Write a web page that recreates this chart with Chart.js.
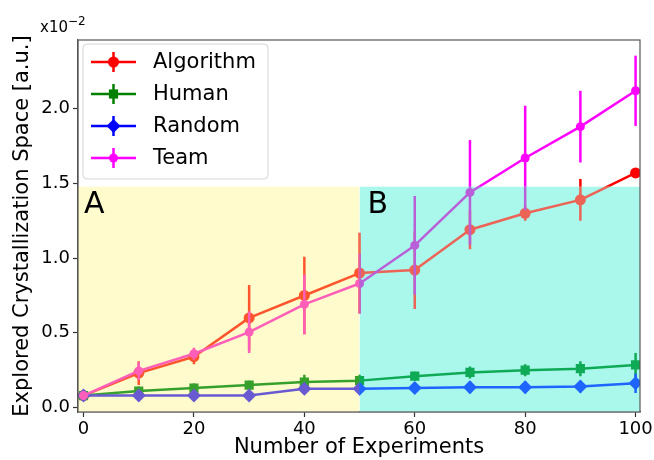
<!DOCTYPE html>
<html>
<head>
<meta charset="utf-8">
<script src="https://cdn.jsdelivr.net/npm/chart.js"></script>
<style>
html,body{margin:0;padding:0;background:#fff;}
#wrap{width:654px;height:460px;}
</style>
</head>
<body>
<div id="wrap"><canvas id="c" width="654" height="460"></canvas></div>
<script>
const experiments = [0,10,20,30,40,50,60,70,80,90,100];
const algorithm    = [0.08,0.23,0.34,0.60,0.75,0.90,0.92,1.19,1.30,1.39,1.57];
const algorithmErr = [0.02,0.08,0.05,0.22,0.26,0.27,0.26,0.13,0.05,0.14,0.01];
const human        = [0.08,0.11,0.13,0.15,0.17,0.18,0.21,0.235,0.25,0.26,0.285];
const humanErr     = [0.02,0.03,0.03,0.03,0.05,0.04,0.03,0.04,0.04,0.05,0.08];
const random       = [0.08,0.08,0.08,0.08,0.125,0.125,0.13,0.135,0.135,0.14,0.163];
const randomErr    = [0.02,0.02,0.02,0.02,0.03,0.03,0.03,0.04,0.04,0.04,0.065];
const team         = [0.08,0.245,0.36,0.505,0.69,0.83,1.085,1.44,1.67,1.88,2.12];
const teamErr      = [0.02,0.06,0.04,0.14,0.2,0.2,0.33,0.35,0.35,0.24,0.235];
const seriesNames  = ['Algorithm','Human','Random','Team'];
const xTicks = [0,20,40,60,80,100];
const yTicks = [0,0.5,1.0,1.5,2.0];
const regionSplit = 50;
const regionTop = 1.48;
const regionLabels = ['A','B'];

const FONT = 'DejaVu Sans';
const colors = ['#ff0000','#008000','#0000ff','#ff00ff'];
const regionBg = ['rgb(255,251,204)','rgb(170,248,236)'];
const regionColors = [
  ['rgb(255,85,45)','rgb(55,160,45)','rgb(105,90,210)','rgb(255,95,185)'],
  ['rgb(235,100,85)','rgb(15,170,85)','rgb(30,100,255)','rgb(185,95,215)']
];
const styles = [
  {pointStyle:'circle', radius:5.5},
  {pointStyle:'rect', radius:6.5},
  {pointStyle:'rectRot', radius:7},
  {pointStyle:'circle', radius:4.5}
];
const values = [algorithm, human, random, team];
const errors = [algorithmErr, humanErr, randomErr, teamErr];
const orders = [3,2,1,0];

const datasets = seriesNames.map((n,i)=>({
  label:n,
  data: experiments.map((x,j)=>({x:x,y:values[i][j]})),
  borderColor: colors[i],
  backgroundColor: colors[i],
  borderWidth: 2.5,
  pointStyle: styles[i].pointStyle,
  pointRadius: styles[i].radius,
  pointBorderWidth: 0,
  pointHoverRadius: styles[i].radius,
  tension: 0,
  clip: 0,
  order: orders[i]
}));

function marker(ctx, style, r, x, y){
  ctx.beginPath();
  if(style==='circle'){ ctx.arc(x,y,r,0,Math.PI*2); }
  else if(style==='rect'){ const s=r/Math.SQRT2; ctx.rect(x-s,y-s,2*s,2*s); }
  else { ctx.moveTo(x,y-r); ctx.lineTo(x+r,y); ctx.lineTo(x,y+r); ctx.lineTo(x-r,y); ctx.closePath(); }
  ctx.fill();
}

function errorBars(ctx, xs, ys, i, color){
  ctx.strokeStyle = color; ctx.lineWidth = 2.5;
  experiments.forEach((ex,j)=>{
    const px = xs.getPixelForValue(ex);
    ctx.beginPath();
    ctx.moveTo(px, ys.getPixelForValue(values[i][j]-errors[i][j]));
    ctx.lineTo(px, ys.getPixelForValue(values[i][j]+errors[i][j]));
    ctx.stroke();
  });
}

function seriesLine(ctx, xs, ys, i, color){
  ctx.strokeStyle = color; ctx.fillStyle = color; ctx.lineWidth = 2.5;
  ctx.lineJoin = 'round';
  ctx.beginPath();
  experiments.forEach((ex,j)=>{
    const px = xs.getPixelForValue(ex), py = ys.getPixelForValue(values[i][j]);
    if(j===0) ctx.moveTo(px,py); else ctx.lineTo(px,py);
  });
  ctx.stroke();
  experiments.forEach((ex,j)=>{
    marker(ctx, styles[i].pointStyle, styles[i].radius, xs.getPixelForValue(ex), ys.getPixelForValue(values[i][j]));
  });
}

const plugin = {
  id:'custom',
  beforeDatasetsDraw(chart){
    const {ctx, chartArea:a, scales:{x,y}} = chart;
    ctx.save();
    ctx.beginPath(); ctx.rect(a.left,a.top,a.right-a.left,a.bottom-a.top); ctx.clip();
    for(let i=values.length-1;i>=0;i--) errorBars(ctx, x, y, i, colors[i]);
    ctx.restore();
  },
  afterDatasetsDraw(chart){
    const {ctx, chartArea:a, scales:{x,y}} = chart;
    const xs = x.getPixelForValue(regionSplit);
    const yt = y.getPixelForValue(regionTop);
    const rects = [[a.left, yt, xs-a.left, a.bottom-yt],[xs, yt, a.right-xs, a.bottom-yt]];
    rects.forEach((r,k)=>{
      ctx.save();
      ctx.beginPath(); ctx.rect(r[0],r[1],r[2],r[3]); ctx.clip();
      ctx.fillStyle = regionBg[k];
      ctx.fillRect(r[0],r[1],r[2],r[3]);
      for(let i=0;i<values.length;i++){
        errorBars(ctx, x, y, i, regionColors[k][i]);
        seriesLine(ctx, x, y, i, regionColors[k][i]);
      }
      ctx.restore();
    });
    // region labels
    ctx.save();
    ctx.fillStyle = '#000';
    ctx.font = '30px "'+FONT+'"';
    ctx.textBaseline = 'alphabetic';
    ctx.textAlign = 'left';
    ctx.fillText(regionLabels[0], a.left+6, yt+27);
    ctx.fillText(regionLabels[1], xs+8, yt+27);
    ctx.restore();
  },
  afterDraw(chart){
    const {ctx, chartArea:a} = chart;
    ctx.save();
    ctx.strokeStyle = '#555';
    ctx.lineWidth = 1.2;
    ctx.strokeRect(a.left, a.top, a.right-a.left, a.bottom-a.top);
    ctx.fillStyle = '#000';
    ctx.textAlign = 'left';
    ctx.textBaseline = 'alphabetic';
    ctx.font = '15px "'+FONT+'"';
    ctx.fillText('x10', 40, 32);
    const w = ctx.measureText('x10').width;
    ctx.font = '12px "'+FONT+'"';
    ctx.fillText('\u22122', 40+w, 25);
    // legend
    const lx=83, ly=44, lw=185, lh=135, r=4;
    ctx.beginPath();
    ctx.moveTo(lx+r,ly); ctx.lineTo(lx+lw-r,ly); ctx.quadraticCurveTo(lx+lw,ly,lx+lw,ly+r);
    ctx.lineTo(lx+lw,ly+lh-r); ctx.quadraticCurveTo(lx+lw,ly+lh,lx+lw-r,ly+lh);
    ctx.lineTo(lx+r,ly+lh); ctx.quadraticCurveTo(lx,ly+lh,lx,ly+lh-r);
    ctx.lineTo(lx,ly+r); ctx.quadraticCurveTo(lx,ly,lx+r,ly); ctx.closePath();
    ctx.fillStyle='rgba(255,255,255,0.85)'; ctx.fill();
    ctx.strokeStyle='#d5d5d5'; ctx.lineWidth=1; ctx.stroke();
    const rows=[62,94,126,158];
    seriesNames.forEach((n,i)=>{
      const cy=rows[i];
      ctx.strokeStyle=colors[i]; ctx.fillStyle=colors[i]; ctx.lineWidth=2.5;
      ctx.beginPath(); ctx.moveTo(91,cy); ctx.lineTo(136,cy); ctx.stroke();
      ctx.beginPath(); ctx.moveTo(113.5,cy-10); ctx.lineTo(113.5,cy+10); ctx.stroke();
      marker(ctx, styles[i].pointStyle, styles[i].radius, 113.5, cy);
      ctx.fillStyle='#000';
      ctx.font='21px "'+FONT+'"';
      ctx.textBaseline='middle';
      ctx.fillText(n, 153, cy+1);
    });
    ctx.restore();
  }
};

new Chart(document.getElementById('c'), {
  type:'line',
  data:{datasets},
  options:{
    responsive:false,
    animation:false,
    events:[],
    layout:{padding:{top:40,right:14,left:0,bottom:0}},
    plugins:{legend:{display:false}, tooltip:{enabled:false}},
    scales:{
      x:{
        type:'linear', min:-1, max:100.8,
        afterBuildTicks(s){ s.ticks = xTicks.map(v=>({value:v})); },
        afterFit(s){ s.height = 48; s.paddingLeft=0; s.paddingRight=0; },
        grid:{drawOnChartArea:false, drawTicks:true, tickLength:5, color:'#333', tickWidth:1.2},
        border:{display:true, color:'#555', width:1.2},
        ticks:{color:'#000', font:{family:FONT, size:18}, padding:2, maxRotation:0,
               callback:(v)=>String(v)},
        title:{display:true, text:'Number of Experiments', color:'#000',
               font:{family:FONT, size:21, lineHeight:1.2}, padding:{top:0,bottom:0}}
      },
      y:{
        type:'linear', min:-0.03, max:2.46,
        afterBuildTicks(s){ s.ticks = yTicks.map(v=>({value:v})); },
        afterFit(s){ s.width = 78; s.paddingTop=0; s.paddingBottom=0; },
        grid:{drawOnChartArea:false, drawTicks:true, tickLength:5, color:'#333', tickWidth:1.2},
        border:{display:true, color:'#555', width:1.2},
        ticks:{color:'#000', font:{family:FONT, size:18}, padding:3,
               callback:(v)=>Number(v).toFixed(1)},
        title:{display:true, text:'Explored Crystallization Space [a.u.]', color:'#000',
               font:{family:FONT, size:21, lineHeight:1.2}, padding:{top:10,bottom:0}}
      }
    }
  },
  plugins:[plugin]
});
</script>
</body>
</html>
